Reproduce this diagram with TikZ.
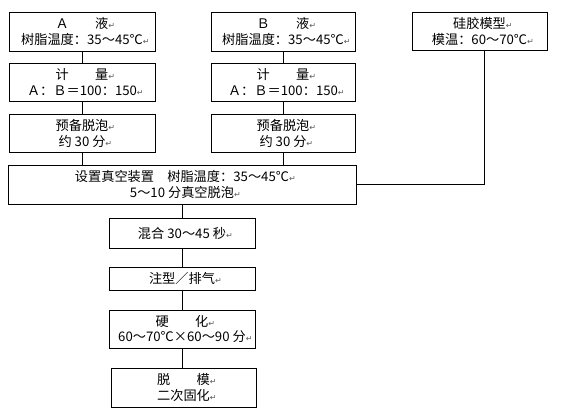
\documentclass[tikz,border=0pt]{standalone}
\usepackage{fontspec}
\setmainfont{Noto Sans CJK SC}
\newfontfamily\symf{DejaVu Sans}
\newcommand{\retmark}{\rlap{\textcolor{gray!70!black}{\symf\fontsize{8}{8}\selectfont ↵}}}
\begin{document}
\begin{tikzpicture}[x=1pt,y=-1pt,
  box/.style={draw, line width=0.9pt, align=center, inner sep=0pt,
    font=\fontsize{13.2}{16}\selectfont},
  conn/.style={line width=0.9pt}]
\useasboundingbox (0,0) rectangle (562,412);
% column A
\node[box, minimum width=146, minimum height=39] (a) at (82,31.5) {Ａ　　液\retmark\\树脂温度：35～45℃\retmark};
\node[box, minimum width=146, minimum height=38] (ma) at (82,82) {计　　量\retmark\\Ａ：Ｂ＝100：150\retmark};
\node[box, minimum width=146, minimum height=38] (pa) at (82,133) {预备脱泡\retmark\\约 30 分\retmark};
% column B
\node[box, minimum width=144, minimum height=39] (b) at (283,31.5) {Ｂ　　液\retmark\\树脂温度：35～45℃\retmark};
\node[box, minimum width=144, minimum height=38] (mb) at (283,82) {计　　量\retmark\\Ａ：Ｂ＝100：150\retmark};
\node[box, minimum width=144, minimum height=38] (pb) at (283,133) {预备脱泡\retmark\\约 30 分\retmark};
% mould
\node[box, minimum width=135, minimum height=38] (si) at (479.5,31) {硅胶模型\retmark\\模温：60～70℃\retmark};
% main column
\node[box, minimum width=348, minimum height=39] (set) at (182,184.5) {设置真空装置　树脂温度：35～45℃\retmark\\5～10 分真空脱泡\retmark};
\node[box, minimum width=146, minimum height=30] (mix) at (182,233) {混合 30～45 秒\retmark};
\node[box, minimum width=146, minimum height=23] (pour) at (182,278.5) {注型／排气\retmark};
\node[box, minimum width=146, minimum height=38] (cure) at (182,329) {硬　　化\retmark\\60～70℃×60～90 分\retmark};
\node[box, minimum width=145, minimum height=39] (demold) at (183.5,387.5) {脱　　模\retmark\\二次固化\retmark};
% connectors
\draw[conn] (a.south) -- (ma.north);
\draw[conn] (ma.south) -- (pa.north);
\draw[conn] (pa.south) -- (pa.south |- set.north);
\draw[conn] (b.south) -- (mb.north);
\draw[conn] (mb.south) -- (pb.north);
\draw[conn] (pb.south) -- (pb.south |- set.north);
\draw[conn] ([xshift=4.5]si.south) |- (set.east);
\draw[conn] (mix.north |- set.south) -- (mix.north);
\draw[conn] (mix.south) -- (pour.north);
\draw[conn] (pour.south) -- (cure.north);
\draw[conn] (cure.south) -- (cure.south |- demold.north);
\end{tikzpicture}
\end{document}
